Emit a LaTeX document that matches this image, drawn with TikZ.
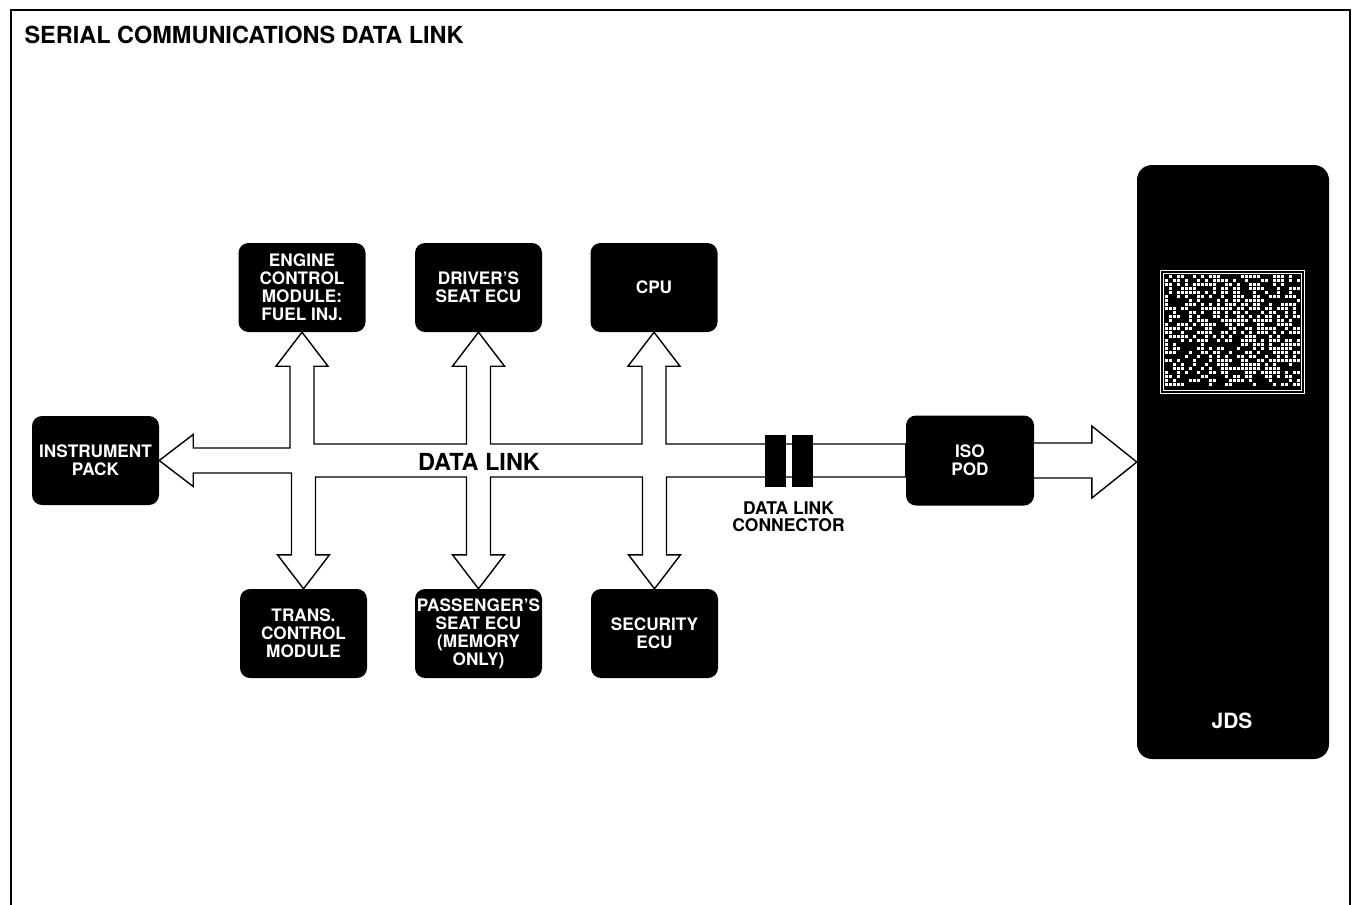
\documentclass[tikz,border=0pt]{standalone}
\usepackage{fontspec}
\setmainfont{TeX Gyre Heros}
\usetikzlibrary{calc}
\tikzset{
unit/.style={fill=black,text=white,rounded corners=10pt,minimum width=127pt,minimum height=89pt,inner sep=1pt,align=center,font=\bfseries\fontsize{17.2}{18}\selectfont},
bus/.style={draw,fill=white,line width=1.4pt,line join=miter},
plug/.style={fill=black,minimum width=21pt,minimum height=52pt,inner sep=0pt},
}
\begin{document}
\begin{tikzpicture}[x=1pt,y=-1pt]
\useasboundingbox (0,0) rectangle (1353,905);
\draw[line width=1.4pt] (11,905)--(11,10)--(1350,10)--(1350,905);
\node[anchor=west,font=\bfseries\fontsize{23.5}{25}\selectfont] (title) at (21,35) {SERIAL COMMUNICATIONS DATA LINK};
\node[unit] (ipack) at (95.5,460.5) {INSTRUMENT\\PACK};
\node[unit] (ecm) at (302,287.5) {ENGINE\\CONTROL\\MODULE:\\FUEL INJ.};
\node[unit] (dseat) at (478.5,287.5) {DRIVER'S\\SEAT ECU};
\node[unit] (cpu) at (654,287.5) {CPU};
\node[unit] (tcm) at (303.5,633.5) {TRANS.\\CONTROL\\MODULE};
\node[unit] (pseat) at (478.5,633.5) {PASSENGER'S\\SEAT ECU\\(MEMORY\\ONLY)};
\node[unit] (sec) at (654.5,633.5) {SECURITY\\ECU};
\node[unit,minimum width=128pt,minimum height=90pt] (iso) at (970,460.5) {ISO\\POD};
\node[unit,minimum width=192pt,minimum height=594pt,rounded corners=15pt] (jds) at (1233,462) {};
\node[text=white,font=\bfseries\fontsize{21}{22}\selectfont] (jdsname) at (1232,721) {JDS};
\node[draw=white,double=black,double distance=1.5pt,line width=0.9pt,minimum width=141pt,minimum height=120pt,inner sep=0pt] (screen) at (1232.5,332) {};
\pgfmathsetseed{17}
\foreach \i in {0,...,33} \foreach \j in {0,...,27} {\pgfmathrandominteger{\dotval}{0}{99}\ifnum\dotval<50 \fill[white] ($(screen.north west)+(3.3+4*\i,3.8+4*\j)$) rectangle ++(2.9,2.9);\fi}
\coordinate (bt) at ($(iso.west)+(0,-16.5)$);
\coordinate (bb) at ($(iso.west)+(0,16.5)$);
\draw[bus] (ipack.east) -- ++(34,-26) -- ++(0,13.5)
 -| ($(ecm.south)+(-12,34)$) -- ++(-14,0) -- (ecm.south) -- ++(26,34) -- ++(-14,0) -- ([xshift=12pt]ecm.south |- bt)
 -| ($(dseat.south)+(-12,34)$) -- ++(-14,0) -- (dseat.south) -- ++(26,34) -- ++(-14,0) -- ([xshift=12pt]dseat.south |- bt)
 -| ($(cpu.south)+(-12,34)$) -- ++(-14,0) -- (cpu.south) -- ++(26,34) -- ++(-14,0) -- ([xshift=12pt]cpu.south |- bt)
 -- (bt) -- (bb)
 -| ($(sec.north)+(12,-34)$) -- ++(14,0) -- (sec.north) -- ++(-26,-34) -- ++(14,0) -- ([xshift=-12pt]sec.north |- bb)
 -| ($(pseat.north)+(12,-34)$) -- ++(14,0) -- (pseat.north) -- ++(-26,-34) -- ++(14,0) -- ([xshift=-12pt]pseat.north |- bb)
 -| ($(tcm.north)+(12,-34)$) -- ++(14,0) -- (tcm.north) -- ++(-26,-34) -- ++(14,0)
 |- ($(ipack.east)+(34,12.5)$) -- ++(0,13.5) -- cycle;
\node[font=\bfseries\fontsize{23.5}{25}\selectfont] (dl) at (479,461.5) {DATA LINK};
\node[plug] (plugl) at (775.5,461) {};
\node[plug] (plugr) at (802.5,461) {};
\node[align=center,font=\bfseries\fontsize{17.5}{17.5}\selectfont] (dlc) at (788.5,516.5) {DATA LINK\\CONNECTOR};
\draw[bus] ($(iso.east)+(0,-17.5)$) -| ($(jds.west)+(-45,-36)$) -- (jds.west) -- ($(jds.west)+(-45,36)$) |- ($(iso.east)+(0,17.5)$);
\end{tikzpicture}
\end{document}
